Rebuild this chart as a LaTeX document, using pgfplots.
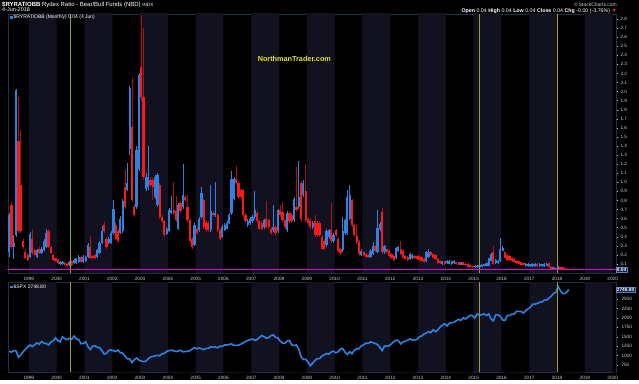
\documentclass[border=0pt]{standalone}
\usepackage{fontspec}
\setmainfont{Liberation Sans}
\usepackage{pgfplots}
\usepackage{pgfplotstable}
\pgfplotsset{compat=1.18}
\definecolor{band}{RGB}{17,17,32}
\definecolor{candred}{RGB}{250,25,25}
\definecolor{wickred}{RGB}{175,15,15}
\definecolor{candblue}{RGB}{45,130,225}
\definecolor{frm}{RGB}{30,48,75}
\definecolor{ylw}{RGB}{165,155,40}
\definecolor{mag}{RGB}{225,0,225}
\definecolor{lbl}{RGB}{205,205,205}
\definecolor{wm}{RGB}{228,228,30}
\definecolor{boxfill}{RGB}{15,35,70}
\definecolor{boxdraw}{RGB}{90,130,190}

\pgfplotstableread{
t o h l c
1998.292 0.23 0.66 0.18 0.64
1998.375 0.75 0.79 0.27 0.29
1998.458 0.29 0.42 0.15 0.33
1998.542 0.42 2.03 0.40 2.02
1998.625 1.45 1.94 0.44 0.46
1998.708 0.97 1.58 0.44 0.46
1998.792 0.35 0.38 0.27 0.29
1998.875 0.23 0.26 0.15 0.16
1998.958 0.20 0.22 0.13 0.14
1999.042 0.18 0.45 0.16 0.43
1999.125 0.38 0.48 0.20 0.22
1999.208 0.25 0.27 0.19 0.20
1999.292 0.18 0.27 0.17 0.25
1999.375 0.27 0.29 0.21 0.22
1999.458 0.22 0.29 0.21 0.27
1999.542 0.25 0.37 0.24 0.35
1999.625 0.29 0.49 0.28 0.44
1999.708 0.46 0.48 0.28 0.29
1999.792 0.29 0.30 0.21 0.22
1999.875 0.20 0.21 0.13 0.14
1999.958 0.16 0.17 0.12 0.13
2000.042 0.14 0.15 0.10 0.11
2000.125 0.10 0.13 0.09 0.12
2000.208 0.10 0.13 0.09 0.12
2000.292 0.11 0.12 0.08 0.09
2000.375 0.10 0.11 0.07 0.08
2000.458 0.09 0.13 0.08 0.12
2000.542 0.13 0.14 0.08 0.09
2000.625 0.11 0.15 0.10 0.14
2000.708 0.11 0.17 0.10 0.16
2000.792 0.12 0.20 0.11 0.18
2000.875 0.18 0.19 0.11 0.12
2000.958 0.12 0.20 0.11 0.18
2001.042 0.13 0.19 0.12 0.18
2001.125 0.18 0.33 0.17 0.31
2001.208 0.29 0.41 0.15 0.16
2001.292 0.19 0.20 0.15 0.16
2001.375 0.20 0.21 0.15 0.16
2001.458 0.18 0.26 0.17 0.25
2001.542 0.22 0.35 0.21 0.33
2001.625 0.33 0.52 0.32 0.46
2001.708 0.53 0.56 0.44 0.46
2001.792 0.38 0.40 0.27 0.29
2001.875 0.33 0.40 0.32 0.38
2001.958 0.33 0.46 0.32 0.44
2002.042 0.44 0.80 0.42 0.71
2002.125 0.53 0.56 0.36 0.38
2002.208 0.46 0.48 0.33 0.35
2002.292 0.44 0.63 0.43 0.60
2002.375 0.46 0.82 0.44 0.79
2002.458 0.95 1.14 0.70 0.73
2002.542 0.92 1.21 0.90 0.99
2002.625 1.37 2.06 1.30 2.04
2002.708 1.61 2.15 0.78 0.80
2002.792 0.73 0.76 0.62 0.64
2002.875 0.73 1.40 0.71 1.36
2002.958 1.15 2.20 1.12 2.18
2003.042 2.27 2.84 1.90 1.94
2003.125 1.94 2.70 1.02 1.06
2003.208 0.93 1.10 0.90 1.06
2003.292 0.95 1.40 0.92 1.06
2003.375 1.03 1.06 0.95 0.97
2003.458 1.03 1.05 0.80 0.95
2003.542 0.84 1.08 0.82 1.06
2003.625 0.75 1.10 0.73 1.08
2003.708 0.97 0.99 0.60 0.62
2003.792 0.62 0.64 0.55 0.57
2003.875 0.57 0.58 0.40 0.42
2003.958 0.43 0.51 0.42 0.49
2004.042 0.46 0.72 0.45 0.69
2004.125 0.66 0.85 0.65 0.69
2004.208 0.69 1.00 0.64 0.66
2004.292 0.68 0.85 0.56 0.58
2004.375 0.49 0.77 0.47 0.75
2004.458 0.77 0.79 0.66 0.68
2004.542 0.73 1.20 0.71 0.86
2004.625 0.84 0.86 0.78 0.80
2004.708 0.73 0.86 0.56 0.58
2004.792 0.58 0.60 0.33 0.35
2004.875 0.38 0.40 0.27 0.29
2004.958 0.31 0.55 0.30 0.53
2005.042 0.49 0.51 0.42 0.44
2005.125 0.47 0.62 0.45 0.60
2005.208 0.62 0.95 0.60 0.88
2005.292 0.80 0.82 0.49 0.51
2005.375 0.56 0.58 0.45 0.47
2005.458 0.55 0.57 0.45 0.47
2005.542 0.47 0.97 0.45 0.68
2005.625 0.66 0.68 0.62 0.64
2005.708 0.64 1.00 0.62 0.66
2005.792 0.64 0.66 0.45 0.47
2005.875 0.47 0.49 0.36 0.38
2005.958 0.40 0.53 0.39 0.51
2006.042 0.47 0.55 0.46 0.53
2006.125 0.49 0.57 0.48 0.55
2006.208 0.55 0.66 0.54 0.64
2006.292 0.66 1.12 0.64 1.04
2006.375 0.82 1.06 0.80 1.04
2006.458 1.04 1.18 0.97 0.99
2006.542 0.99 1.01 0.82 0.84
2006.625 0.91 0.93 0.82 0.84
2006.708 0.91 0.93 0.62 0.64
2006.792 0.64 0.66 0.55 0.57
2006.875 0.53 0.59 0.51 0.57
2006.958 0.55 0.62 0.53 0.60
2007.042 0.57 0.64 0.55 0.62
2007.125 0.62 0.90 0.60 0.69
2007.208 0.66 0.68 0.55 0.57
2007.292 0.57 0.59 0.47 0.49
2007.375 0.55 0.57 0.47 0.49
2007.458 0.51 0.60 0.49 0.58
2007.542 0.60 0.79 0.49 0.51
2007.625 0.58 0.60 0.49 0.51
2007.708 0.49 0.51 0.42 0.44
2007.792 0.47 0.75 0.45 0.51
2007.875 0.51 0.53 0.42 0.44
2007.958 0.46 0.71 0.44 0.69
2008.042 0.69 0.75 0.62 0.64
2008.125 0.67 0.78 0.56 0.58
2008.208 0.58 0.60 0.49 0.51
2008.292 0.47 0.68 0.45 0.66
2008.375 0.66 0.68 0.55 0.57
2008.458 0.64 0.66 0.55 0.57
2008.542 0.58 0.84 0.56 0.82
2008.625 0.73 1.17 0.67 0.69
2008.708 0.73 1.23 0.71 0.84
2008.792 0.99 1.01 0.56 0.60
2008.875 0.86 1.02 0.84 0.99
2008.958 0.90 1.20 0.56 0.58
2009.042 0.60 0.62 0.53 0.55
2009.125 0.57 0.59 0.49 0.51
2009.208 0.51 0.57 0.49 0.55
2009.292 0.57 0.64 0.40 0.42
2009.375 0.55 0.57 0.40 0.42
2009.458 0.55 0.57 0.40 0.42
2009.542 0.40 0.42 0.25 0.27
2009.625 0.35 0.37 0.25 0.27
2009.708 0.31 0.48 0.29 0.46
2009.792 0.40 0.49 0.38 0.47
2009.875 0.47 0.77 0.33 0.35
2009.958 0.35 0.44 0.33 0.42
2010.042 0.47 0.49 0.40 0.42
2010.125 0.38 0.40 0.22 0.24
2010.208 0.27 0.29 0.20 0.22
2010.292 0.25 0.62 0.23 0.46
2010.375 0.44 0.60 0.42 0.58
2010.458 0.44 0.92 0.42 0.84
2010.542 0.60 0.97 0.58 0.86
2010.625 0.80 0.82 0.51 0.53
2010.708 0.53 0.55 0.40 0.42
2010.792 0.41 0.54 0.32 0.34
2010.875 0.34 0.36 0.19 0.21
2010.958 0.20 0.26 0.19 0.245
2011.042 0.227 0.24 0.19 0.20
2011.125 0.208 0.22 0.17 0.18
2011.208 0.20 0.21 0.17 0.18
2011.292 0.18 0.26 0.17 0.245
2011.375 0.21 0.34 0.20 0.30
2011.458 0.30 0.31 0.23 0.245
2011.542 0.227 0.69 0.22 0.50
2011.625 0.48 0.56 0.46 0.54
2011.708 0.67 0.72 0.21 0.227
2011.792 0.227 0.31 0.21 0.30
2011.875 0.26 0.27 0.21 0.227
2011.958 0.245 0.26 0.18 0.19
2012.042 0.208 0.22 0.15 0.164
2012.125 0.19 0.20 0.13 0.142
2012.208 0.164 0.29 0.15 0.28
2012.292 0.245 0.30 0.23 0.29
2012.375 0.26 0.355 0.20 0.208
2012.458 0.245 0.26 0.16 0.17
2012.542 0.19 0.20 0.14 0.153
2012.625 0.18 0.19 0.13 0.142
2012.708 0.153 0.22 0.14 0.208
2012.792 0.164 0.21 0.15 0.20
2012.875 0.19 0.20 0.15 0.16
2012.958 0.19 0.20 0.14 0.153
2013.042 0.19 0.20 0.13 0.142
2013.125 0.18 0.19 0.13 0.135
2013.208 0.153 0.16 0.11 0.116
2013.292 0.127 0.24 0.12 0.227
2013.375 0.18 0.26 0.17 0.227
2013.458 0.227 0.24 0.19 0.20
2013.542 0.208 0.22 0.16 0.17
2013.625 0.20 0.21 0.145 0.153
2013.708 0.153 0.16 0.10 0.105
2013.792 0.127 0.135 0.10 0.105
2013.875 0.098 0.135 0.09 0.127
2013.958 0.127 0.135 0.09 0.098
2014.042 0.105 0.14 0.10 0.135
2014.125 0.10 0.14 0.095 0.13
2014.208 0.098 0.135 0.09 0.127
2014.292 0.105 0.14 0.10 0.135
2014.375 0.116 0.125 0.09 0.098
2014.458 0.116 0.125 0.085 0.091
2014.542 0.091 0.125 0.085 0.116
2014.625 0.116 0.125 0.085 0.091
2014.708 0.10 0.11 0.08 0.085
2014.792 0.098 0.105 0.065 0.069
2014.875 0.091 0.10 0.065 0.069
2014.958 0.08 0.085 0.055 0.061
2015.042 0.061 0.085 0.055 0.08
2015.125 0.061 0.085 0.055 0.08
2015.208 0.069 0.095 0.065 0.091
2015.292 0.069 0.095 0.065 0.091
2015.375 0.08 0.10 0.075 0.098
2015.458 0.08 0.11 0.075 0.105
2015.542 0.08 0.17 0.075 0.164
2015.625 0.135 0.215 0.13 0.208
2015.708 0.227 0.30 0.09 0.098
2015.792 0.105 0.15 0.10 0.142
2015.875 0.105 0.14 0.10 0.135
2015.958 0.127 0.39 0.12 0.26
2016.042 0.245 0.30 0.24 0.28
2016.125 0.227 0.235 0.16 0.17
2016.208 0.20 0.21 0.135 0.142
2016.292 0.19 0.20 0.135 0.142
2016.375 0.17 0.175 0.12 0.127
2016.458 0.153 0.16 0.11 0.116
2016.542 0.135 0.14 0.10 0.105
2016.625 0.127 0.13 0.09 0.098
2016.708 0.116 0.12 0.085 0.091
2016.792 0.11 0.115 0.085 0.09
2016.875 0.076 0.105 0.07 0.098
2016.958 0.076 0.105 0.07 0.098
2017.042 0.078 0.10 0.07 0.096
2017.125 0.076 0.105 0.07 0.098
2017.208 0.078 0.105 0.07 0.098
2017.292 0.098 0.105 0.07 0.076
2017.375 0.076 0.105 0.07 0.098
2017.458 0.078 0.10 0.07 0.096
2017.542 0.076 0.105 0.07 0.098
2017.625 0.08 0.105 0.075 0.098
2017.708 0.105 0.11 0.055 0.061
2017.792 0.069 0.075 0.04 0.043
2017.875 0.043 0.065 0.04 0.061
2017.958 0.054 0.06 0.035 0.039
2018.042 0.039 0.08 0.035 0.061
2018.125 0.061 0.065 0.04 0.043
2018.208 0.061 0.065 0.035 0.039
2018.292 0.05 0.055 0.03 0.035
2018.375 0.045 0.05 0.035 0.040
}\rydex

\pgfplotstableread{
t c
1998.292 1112
1998.375 1091
1998.458 1134
1998.542 1121
1998.625 957
1998.708 1017
1998.792 1099
1998.875 1164
1998.958 1229
1999.042 1280
1999.125 1238
1999.208 1286
1999.292 1335
1999.375 1302
1999.458 1373
1999.542 1329
1999.625 1320
1999.708 1283
1999.792 1363
1999.875 1389
1999.958 1469
2000.042 1394
2000.125 1366
2000.208 1499
2000.292 1452
2000.375 1421
2000.458 1455
2000.542 1431
2000.625 1518
2000.708 1437
2000.792 1429
2000.875 1315
2000.958 1320
2001.042 1366
2001.125 1240
2001.208 1160
2001.292 1249
2001.375 1256
2001.458 1224
2001.542 1211
2001.625 1134
2001.708 1041
2001.792 1060
2001.875 1139
2001.958 1148
2002.042 1130
2002.125 1107
2002.208 1147
2002.292 1076
2002.375 1067
2002.458 990
2002.542 912
2002.625 916
2002.708 815
2002.792 886
2002.875 936
2002.958 880
2003.042 856
2003.125 841
2003.208 848
2003.292 917
2003.375 964
2003.458 975
2003.542 990
2003.625 1008
2003.708 996
2003.792 1051
2003.875 1058
2003.958 1112
2004.042 1131
2004.125 1145
2004.208 1126
2004.292 1107
2004.375 1121
2004.458 1141
2004.542 1102
2004.625 1104
2004.708 1115
2004.792 1130
2004.875 1174
2004.958 1212
2005.042 1181
2005.125 1204
2005.208 1181
2005.292 1157
2005.375 1192
2005.458 1191
2005.542 1234
2005.625 1220
2005.708 1229
2005.792 1207
2005.875 1249
2005.958 1248
2006.042 1280
2006.125 1281
2006.208 1295
2006.292 1311
2006.375 1270
2006.458 1270
2006.542 1277
2006.625 1304
2006.708 1336
2006.792 1378
2006.875 1401
2006.958 1418
2007.042 1438
2007.125 1407
2007.208 1421
2007.292 1482
2007.375 1531
2007.458 1503
2007.542 1455
2007.625 1474
2007.708 1527
2007.792 1549
2007.875 1481
2007.958 1468
2008.042 1379
2008.125 1331
2008.208 1323
2008.292 1386
2008.375 1400
2008.458 1280
2008.542 1267
2008.625 1283
2008.708 1165
2008.792 969
2008.875 896
2008.958 903
2009.042 826
2009.125 735
2009.208 798
2009.292 873
2009.375 919
2009.458 919
2009.542 987
2009.625 1021
2009.708 1057
2009.792 1036
2009.875 1096
2009.958 1115
2010.042 1074
2010.125 1104
2010.208 1169
2010.292 1187
2010.375 1089
2010.458 1031
2010.542 1102
2010.625 1049
2010.708 1141
2010.792 1183
2010.875 1181
2010.958 1258
2011.042 1286
2011.125 1327
2011.208 1326
2011.292 1364
2011.375 1345
2011.458 1321
2011.542 1292
2011.625 1219
2011.708 1131
2011.792 1253
2011.875 1247
2011.958 1258
2012.042 1312
2012.125 1366
2012.208 1408
2012.292 1398
2012.375 1310
2012.458 1362
2012.542 1379
2012.625 1407
2012.708 1441
2012.792 1412
2012.875 1416
2012.958 1426
2013.042 1498
2013.125 1515
2013.208 1569
2013.292 1598
2013.375 1631
2013.458 1606
2013.542 1686
2013.625 1633
2013.708 1682
2013.792 1757
2013.875 1806
2013.958 1848
2014.042 1783
2014.125 1859
2014.208 1872
2014.292 1884
2014.375 1924
2014.458 1960
2014.542 1931
2014.625 2003
2014.708 1972
2014.792 2018
2014.875 2068
2014.958 2059
2015.042 1995
2015.125 2105
2015.208 2068
2015.292 2086
2015.375 2107
2015.458 2063
2015.542 2104
2015.625 1972
2015.708 1920
2015.792 2079
2015.875 2080
2015.958 2044
2016.042 1940
2016.125 1932
2016.208 2060
2016.292 2065
2016.375 2097
2016.458 2099
2016.542 2174
2016.625 2171
2016.708 2168
2016.792 2126
2016.875 2199
2016.958 2239
2017.042 2279
2017.125 2364
2017.208 2363
2017.292 2384
2017.375 2412
2017.458 2423
2017.542 2470
2017.625 2472
2017.708 2519
2017.792 2575
2017.875 2648
2017.958 2674
2018.042 2824
2018.125 2714
2018.208 2641
2018.292 2648
2018.375 2705
2018.425 2749
}\spx

\pgfplotsset{
  panel/.style={
    scale only axis, width=608bp,
    xmin=1998.25, xmax=2020.12,
    axis background/.style={fill=black},
    axis line style={draw=frm, line width=0.6bp},
    clip mode=individual,
    xtick={1999,2000,...,2020},
    scaled x ticks=false, scaled y ticks=false,
    xtick style={draw=none},
    xticklabel style={/pgf/number format/.cd, 1000 sep={}, assume math mode=true},
    tick label style={font=\fontsize{4.7}{5}\selectfont, text=lbl},
    ytick pos=right, yticklabel pos=right,
    ytick style={draw=lbl, line width=0.3bp},
    tick align=outside, major tick length=2bp,
    xticklabel shift=-1bp,
  },
}

\begin{document}
\begin{tikzpicture}
\fill[black] (0,0) rectangle (639bp,380bp);

% ---------- top panel ----------
\begin{axis}[panel, at={(8bp,107bp)}, anchor=south west, height=259bp,
  ymin=0, ymax=2.855,
  ytick={0.1,0.2,...,2.81},
  yticklabel style={/pgf/number format/.cd, fixed, fixed zerofill, precision=1, assume math mode=true},
  yticklabel shift=-1bp,
]
\addplot[ybar interval, fill=band, draw=none, forget plot] coordinates {
(1999,3) (2000,0) (2001,3) (2002,0) (2003,3) (2004,0) (2005,3) (2006,0) (2007,3) (2008,0)
(2009,3) (2010,0) (2011,3) (2012,0) (2013,3) (2014,0) (2015,3) (2016,0) (2017,3) (2018,0)
(2019,3) (2020,0) (2021,0)};
% wicks
\addplot[draw=none, mark=none, forget plot,
  error bars/.cd, y dir=plus, y explicit, error mark=none,
  error bar style={draw=wickred, line width=0.6bp}]
  table[x=t, y=l, y error plus expr={(\thisrow{c}<\thisrow{o}) ? (\thisrow{h}-\thisrow{l}) : 0}] {\rydex};
\addplot[draw=none, mark=none, forget plot,
  error bars/.cd, y dir=plus, y explicit, error mark=none,
  error bar style={draw=candblue, line width=0.6bp}]
  table[x=t, y=l, y error plus expr={(\thisrow{c}<\thisrow{o}) ? 0 : (\thisrow{h}-\thisrow{l})}] {\rydex};
% bodies
\addplot[draw=none, mark=none, forget plot,
  error bars/.cd, y dir=plus, y explicit, error mark=none,
  error bar style={draw=candred, line width=2.2bp}]
  table[x=t, y expr={min(\thisrow{o},\thisrow{c})}, y error plus expr={(\thisrow{c}<\thisrow{o}) ? (\thisrow{o}-\thisrow{c}) : 0}] {\rydex};
\addplot[draw=none, mark=none, forget plot,
  error bars/.cd, y dir=plus, y explicit, error mark=none,
  error bar style={draw=candblue, line width=2.2bp}]
  table[x=t, y expr={min(\thisrow{o},\thisrow{c})}, y error plus expr={(\thisrow{c}<\thisrow{o}) ? 0 : (\thisrow{c}-\thisrow{o})}] {\rydex};
% markers
\addplot[ylw, line width=0.7bp, forget plot] coordinates {(2000.5,0) (2000.5,2.855)};
\addplot[ylw, line width=0.7bp, forget plot] coordinates {(2015.2,0) (2015.2,2.855)};
\addplot[ylw, line width=0.7bp, forget plot] coordinates {(2018.0,0) (2018.0,2.855)};
\addplot[mag, line width=1.1bp, forget plot] coordinates {(1998.25,0.04) (2020.12,0.04)};
\node[anchor=west, inner sep=0.7bp, fill=boxfill, draw=boxdraw, line width=0.4bp, text=white,
  font=\bfseries\fontsize{4.8}{5}\selectfont] at (axis cs:2020.12,0.04) {0.04};
\node[anchor=base west, inner sep=0pt, text=white, font=\fontsize{5}{6}\selectfont]
  at (rel axis cs:0.003,0.982) {\textcolor{candblue}{\rule{2.8bp}{2.8bp}}\,\$RYRATIOBB (Monthly) 0.04 (4 Jun)};
\node[text=wm, font=\bfseries\fontsize{7.3}{8}\selectfont] at (axis cs:2008.55,2.36) {NorthmanTrader.com};
\end{axis}

% ---------- bottom panel ----------
\begin{axis}[panel, at={(8bp,8bp)}, anchor=south west, height=90bp,
  ymin=565, ymax=2950,
  ytick={750,1000,...,2500},
  yticklabel style={/pgf/number format/.cd, fixed, precision=0, 1000 sep={}, assume math mode=true},
]
\addplot[ybar interval, fill=band, draw=none, forget plot] coordinates {
(1999,4000) (2000,0) (2001,4000) (2002,0) (2003,4000) (2004,0) (2005,4000) (2006,0) (2007,4000) (2008,0)
(2009,4000) (2010,0) (2011,4000) (2012,0) (2013,4000) (2014,0) (2015,4000) (2016,0) (2017,4000) (2018,0)
(2019,4000) (2020,0) (2021,0)};
\addplot[candblue, line width=1.6bp, forget plot] table[x=t, y=c] {\spx};
\addplot[ylw, line width=0.7bp, forget plot] coordinates {(2000.5,565) (2000.5,2950)};
\addplot[ylw, line width=0.7bp, forget plot] coordinates {(2015.2,565) (2015.2,2950)};
\addplot[ylw, line width=0.7bp, forget plot] coordinates {(2018.0,565) (2018.0,2950)};
\node[anchor=west, inner sep=0.7bp, fill=boxfill, draw=boxdraw, line width=0.4bp, text=white,
  font=\bfseries\fontsize{4.8}{5}\selectfont] at (axis cs:2020.12,2748.8) {2748.80};
\node[anchor=base west, inner sep=0pt, text=white, font=\fontsize{5}{6}\selectfont]
  at (rel axis cs:0.003,0.93) {\textcolor{candblue}{\rule{2.8bp}{2.8bp}}\,\$SPX 2748.80};
\end{axis}

% ---------- header ----------
\node[anchor=base west, inner sep=0pt, text=white, font=\fontsize{6}{7}\selectfont]
  at (2bp,373.5bp) {\textbf{\$RYRATIOBB} Rydex Ratio - Bear/Bull Funds (NBD) {\fontsize{4.6}{5}\selectfont INDX}};
\node[anchor=base west, inner sep=0pt, text=white, font=\fontsize{5.5}{6}\selectfont]
  at (2bp,368bp) {4-Jun-2018};
\node[anchor=base east, inner sep=0pt, text=lbl, font=\fontsize{5}{6}\selectfont]
  at (617bp,373.5bp) {\textcopyright\,StockCharts.com};
\node[anchor=base east, inner sep=0pt, text=white, font=\fontsize{5.3}{6}\selectfont]
  at (617bp,367.8bp) {\textbf{Open} 0.04 \textbf{High} 0.04 \textbf{Low} 0.04 \textbf{Close} 0.04 \textbf{Chg} -0.00 (-3.76\%) \textcolor{candred}{▼}};
\end{tikzpicture}
\end{document}
